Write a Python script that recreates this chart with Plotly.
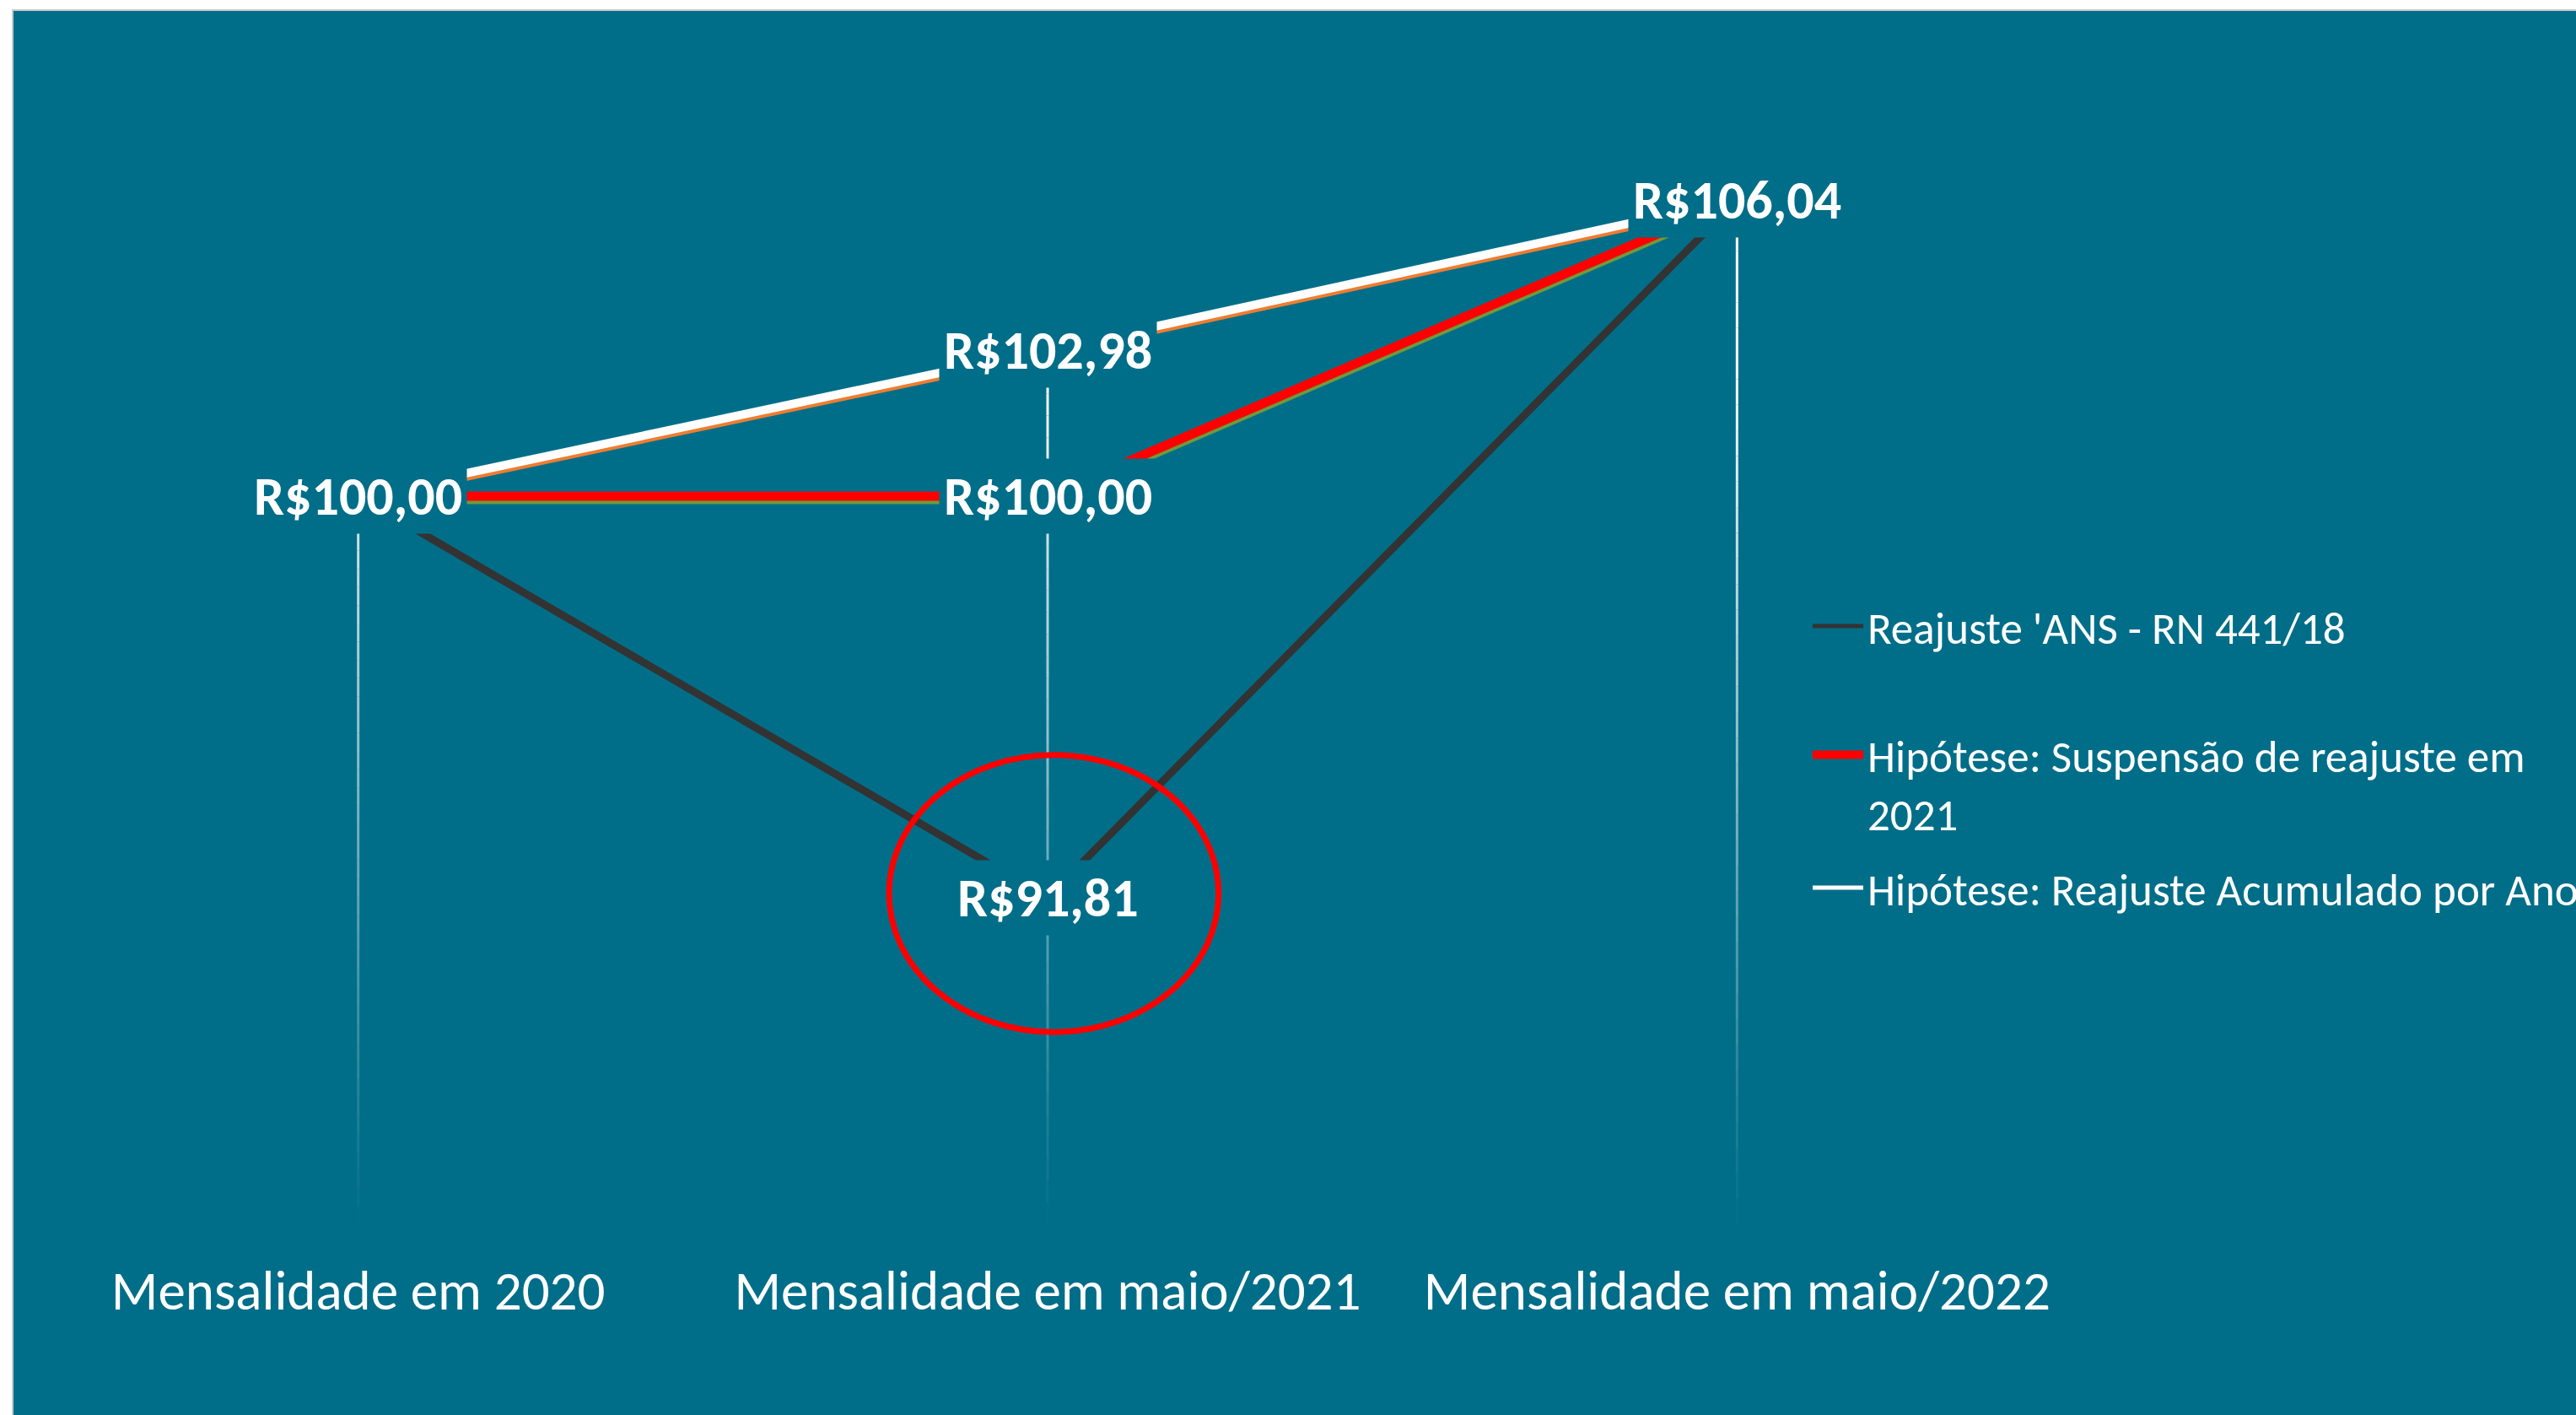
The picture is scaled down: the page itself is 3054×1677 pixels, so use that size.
import plotly.graph_objects as go

# ---------------- data ----------------
categorias = ["Mensalidade em 2020", "Mensalidade em maio/2021", "Mensalidade em maio/2022"]
reajuste_ans = [100.00, 91.81, 106.04]          # Reajuste 'ANS - RN 441/18
suspensao_2021 = [100.00, 100.00, 106.04]       # Hipótese: Suspensão de reajuste em 2021
acumulado_ano = [100.00, 102.98, 106.04]        # Hipótese: Reajuste Acumulado por Ano
nomes = ["Reajuste 'ANS - RN 441/18",
         "Hipótese: Suspensão de reajuste em<br>2021",
         "Hipótese: Reajuste Acumulado por Ano"]

# ---------------- style / geometry ----------------
W, H = 3054, 1677
ML, MR, MT, MB = 16, 586, 123, 226
PW, PH = W - ML - MR, H - MT - MB
Y_RANGE = [85.15, 108.0]
X_RANGE = [-0.5, 2.5]
PX_PER_UNIT = PH / (Y_RANGE[1] - Y_RANGE[0])
SHADOW = 4 / PX_PER_UNIT

TEAL = "#006E89"
FONT = "Carlito, Lato, sans-serif"
xs = list(range(len(categorias)))

fig = go.Figure()

# shadow series on the base axis (range shifted so they sit a few pixels lower)
fig.add_trace(go.Scatter(x=xs, y=suspensao_2021, mode="lines", yaxis="y",
                         line=dict(color="#6E9A3C", width=11), showlegend=False, hoverinfo="skip"))
fig.add_trace(go.Scatter(x=xs, y=acumulado_ano, mode="lines", yaxis="y",
                         line=dict(color="#ED7D31", width=10), showlegend=False, hoverinfo="skip"))
# main series on the overlaid axis (drawn on top)
fig.add_trace(go.Scatter(x=xs, y=reajuste_ans, mode="lines", name=nomes[0], yaxis="y2",
                         line=dict(color="#333333", width=9), showlegend=False))
fig.add_trace(go.Scatter(x=xs, y=suspensao_2021, mode="lines", name=nomes[1], yaxis="y2",
                         line=dict(color="#FF0000", width=11), showlegend=False))
fig.add_trace(go.Scatter(x=xs, y=acumulado_ano, mode="lines", name=nomes[2], yaxis="y2",
                         line=dict(color="#FFFFFF", width=10), showlegend=False))

# legend entries
leg_specs = [("legend", nomes[0], "#333333", 5),
             ("legend2", nomes[1], "#FF0000", 10),
             ("legend3", nomes[2], "#FFFFFF", 5)]
for lg, nm, col, wd in leg_specs:
    fig.add_trace(go.Scatter(x=[None], y=[None], mode="lines", name=nm, legend=lg, yaxis="y2",
                             line=dict(color=col, width=wd)))

shapes = []
# background panel
shapes.append(dict(type="rect", xref="paper", yref="paper", layer="below",
                   x0=(15 - ML) / PW, x1=(W + 5 - ML) / PW,
                   y0=-(MB + 5) / PH, y1=(H - MB - 12) / PH,
                   fillcolor=TEAL, line=dict(color="#C8C8C8", width=2)))

# drop lines fading toward the axis
NSEG = 40
for i in xs:
    top = max(reajuste_ans[i], suspensao_2021[i], acumulado_ano[i])
    bot = Y_RANGE[0]
    for k in range(NSEG):
        ya = bot + (top - bot) * k / NSEG
        yb = bot + (top - bot) * (k + 1) / NSEG
        ymid_frac = ((ya + yb) / 2 - Y_RANGE[0]) / (Y_RANGE[1] - Y_RANGE[0])
        a = max(0.0, min(1.0, 1.3 * ymid_frac))
        shapes.append(dict(type="line", xref="x", yref="y2", layer="below",
                           x0=i, x1=i, y0=ya, y1=yb,
                           line=dict(color=f"rgba(255,255,255,{a:.3f})", width=3)))

# red highlight ellipse around the ANS 2021 value
shapes.append(dict(type="circle", xref="x", yref="y2", layer="above",
                   x0=1 - 0.230, x1=1 + 0.248,
                   y0=reajuste_ans[1] - 2.74, y1=reajuste_ans[1] + 2.91,
                   line=dict(color="#FF0000", width=7)))

# data labels
pontos = []
for serie in (reajuste_ans, suspensao_2021, acumulado_ano):
    for i, v in zip(xs, serie):
        if (i, v) not in pontos:
            pontos.append((i, v))
annotations = []
for i, v in pontos:
    txt = "R$" + f"{v:.2f}".replace(".", ",")
    annotations.append(dict(x=i, y=v, xref="x", yref="y2", text="<b>" + txt + "</b>",
                            showarrow=False, xanchor="center", yanchor="middle",
                            bgcolor=TEAL, borderpad=5,
                            font=dict(family=FONT, size=64, color="white")))

leg_common = dict(xref="container", yref="container", xanchor="left", yanchor="middle",
                  bgcolor="rgba(0,0,0,0)", borderwidth=0, itemwidth=60,
                  font=dict(family=FONT, size=53, color="white"))
LEG_X = 2144 / W
fig.update_layout(
    width=W, height=H,
    paper_bgcolor="white", plot_bgcolor="rgba(0,0,0,0)",
    margin=dict(l=ML, r=MR, t=MT, b=MB, autoexpand=False),
    xaxis=dict(range=X_RANGE, tickvals=xs, ticktext=categorias, showgrid=False,
               zeroline=False, showline=False, ticks="outside", ticklen=22,
               tickcolor="rgba(0,0,0,0)",
               tickfont=dict(family=FONT, size=65, color="white")),
    yaxis=dict(range=[Y_RANGE[0] + SHADOW, Y_RANGE[1] + SHADOW], visible=False, showgrid=False),
    yaxis2=dict(range=Y_RANGE, overlaying="y", visible=False, showgrid=False),
    legend=dict(x=LEG_X, y=1 - 742 / H, **leg_common),
    legend2=dict(x=LEG_X, y=1 - 929 / H, valign="top", **leg_common),
    legend3=dict(x=LEG_X, y=1 - 1052 / H, **leg_common),
    shapes=shapes, annotations=annotations,
    showlegend=True,
)

fig.write_html("out.html")
